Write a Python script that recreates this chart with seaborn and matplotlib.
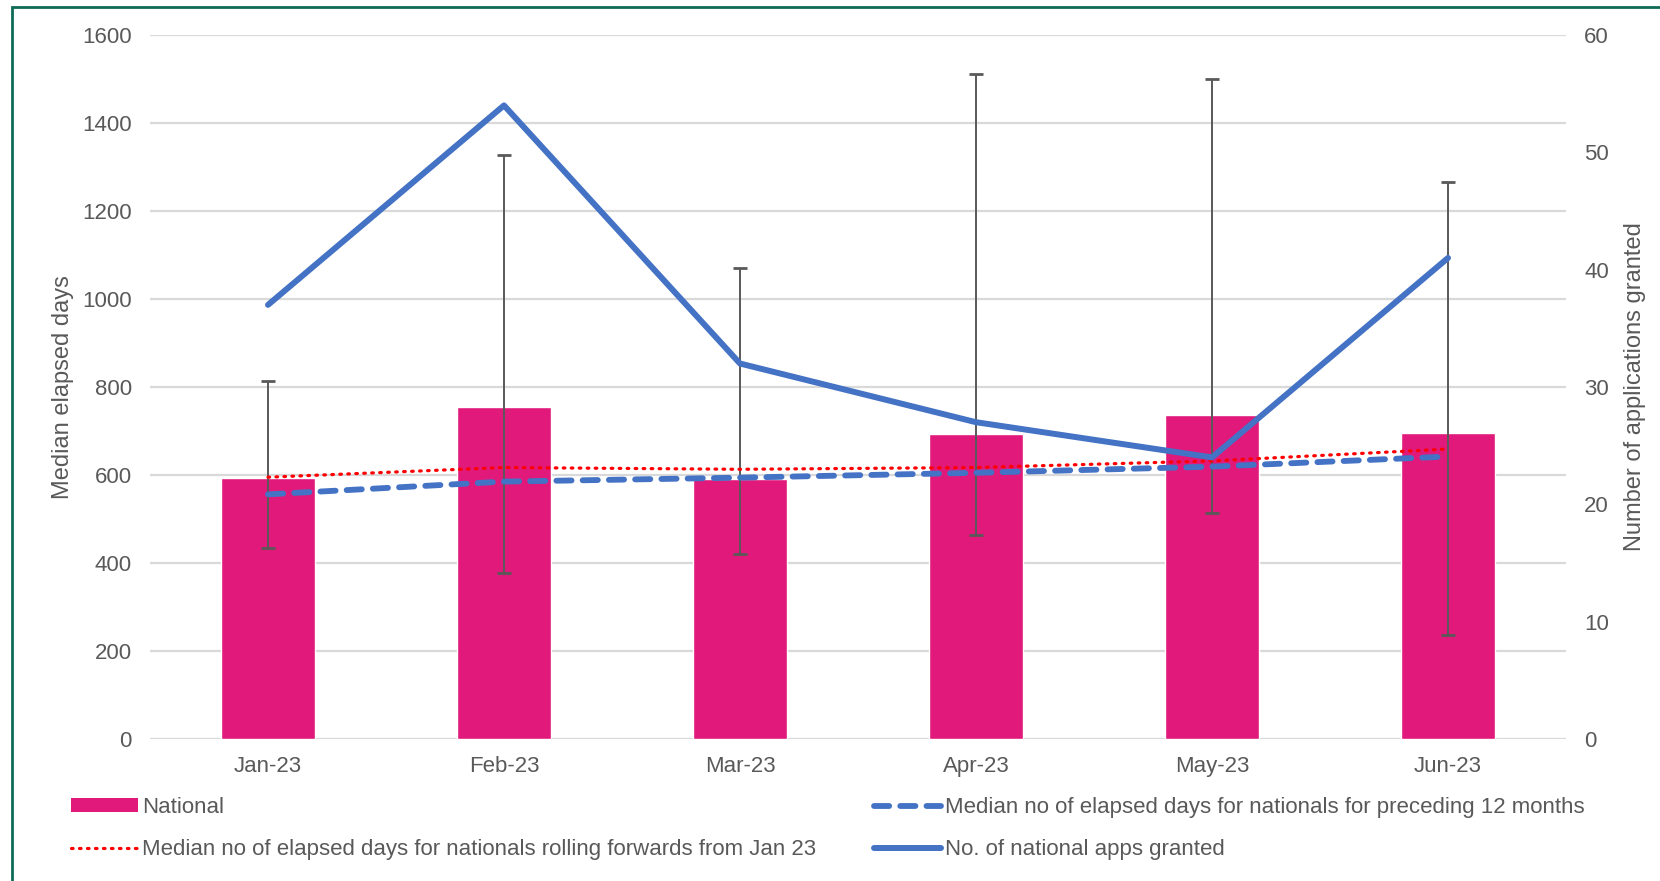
import numpy as np
import pandas as pd
import seaborn as sns
import matplotlib.pyplot as plt
from matplotlib.lines import Line2D
from matplotlib.patches import Patch, Rectangle

months = ['Jan-23', 'Feb-23', 'Mar-23', 'Apr-23', 'May-23', 'Jun-23']
national = [593, 754, 590, 693, 737, 695]
err_low = [433, 377, 420, 464, 513, 236]
err_high = [814, 1327, 1071, 1511, 1501, 1265]
rolling = [595, 617, 613, 617, 632, 659]
preceding = [556, 585, 594, 605, 619, 642]
granted = [37, 54, 32, 27, 24, 41]

bar_col = '#E0197A'
blue = '#4472C4'
red = '#FF0000'
txt = '#595959'
grid = '#D9D9D9'
fs = 16

sns.set_style('white')
plt.rcParams['font.family'] = ['Liberation Sans', 'DejaVu Sans']

df = pd.DataFrame({'month': months, 'national': national, 'rolling': rolling,
                   'preceding': preceding, 'granted': granted})

fig = plt.figure(figsize=(16.6, 8.81), dpi=100)
ax = fig.add_axes([150 / 1660, 1 - 739 / 881, (1566 - 150) / 1660, (739 - 35) / 881])

sns.barplot(data=df, x='month', y='national', color=bar_col, width=0.4,
            saturation=1, ax=ax, zorder=2)

pos = np.arange(len(months))
yerr = [np.array(national) - np.array(err_low), np.array(err_high) - np.array(national)]
ax.errorbar(pos, national, yerr=yerr, fmt='none', ecolor='#595959', elinewidth=1.4,
            capsize=5, capthick=2, zorder=3)

dot = (0, (0.5, 2.0))
dash = (0, (2.6, 1.9))
sns.lineplot(x=pos, y=df['rolling'], color=red, lw=2.3, ax=ax, zorder=4,
             linestyle=dot, dash_capstyle='round')
sns.lineplot(x=pos, y=df['preceding'], color=blue, lw=4.2, ax=ax, zorder=4,
             linestyle=dash, dash_capstyle='round')

ax.set_ylim(0, 1600)
ax.set_xlim(-0.5, 5.5)
ax.set_yticks(range(0, 1601, 200))
ax.yaxis.grid(True, color=grid, lw=1.6, zorder=0)
ax.set_axisbelow(True)
for s in ax.spines.values():
    s.set_visible(False)
ax.tick_params(axis='both', length=0, labelsize=fs, colors=txt)
ax.tick_params(axis='y', pad=13)
ax.tick_params(axis='x', pad=12)
ax.set_xlabel('')
ax.set_ylabel('Median elapsed days', fontsize=17, color=txt, labelpad=6)

ax2 = ax.twinx()
sns.lineplot(x=pos, y=df['granted'], color=blue, lw=4.3, ax=ax2, zorder=5)
ax2.set_ylim(0, 60)
ax2.set_yticks(range(0, 61, 10))
for s in ax2.spines.values():
    s.set_visible(False)
ax2.tick_params(axis='y', length=0, labelsize=fs, colors=txt, pad=13)
ax2.set_ylabel('Number of applications granted', fontsize=17, color=txt, labelpad=11)
ax2.grid(False)

handles = [
    Patch(facecolor=bar_col, edgecolor='none'),
    Line2D([], [], color=red, lw=2.3, linestyle=dot, dash_capstyle='round'),
    Line2D([], [], color=blue, lw=4.2, linestyle=dash, dash_capstyle='round'),
    Line2D([], [], color=blue, lw=4.3),
]
labels = ['National',
          'Median no of elapsed days for nationals rolling forwards from Jan 23',
          'Median no of elapsed days for nationals for preceding 12 months',
          'No. of national apps granted']
leg = fig.legend(handles, labels, loc='upper left', bbox_to_anchor=(71 / 1660, 1 - 797 / 881),
                 ncol=2, frameon=False, fontsize=fs, borderpad=0, borderaxespad=0,
                 handlelength=3.0, handleheight=0.6, handletextpad=0.2,
                 columnspacing=2.6, labelspacing=0.95)
for t in leg.get_texts():
    t.set_color(txt)

fig.patches.append(Rectangle((12 / 1660, -0.05), 1.1, 1 - 7 / 881 + 0.05,
                             transform=fig.transFigure, fill=False,
                             edgecolor='#0E6B56', lw=2, clip_on=False))

fig.savefig('out.png', dpi=100)
